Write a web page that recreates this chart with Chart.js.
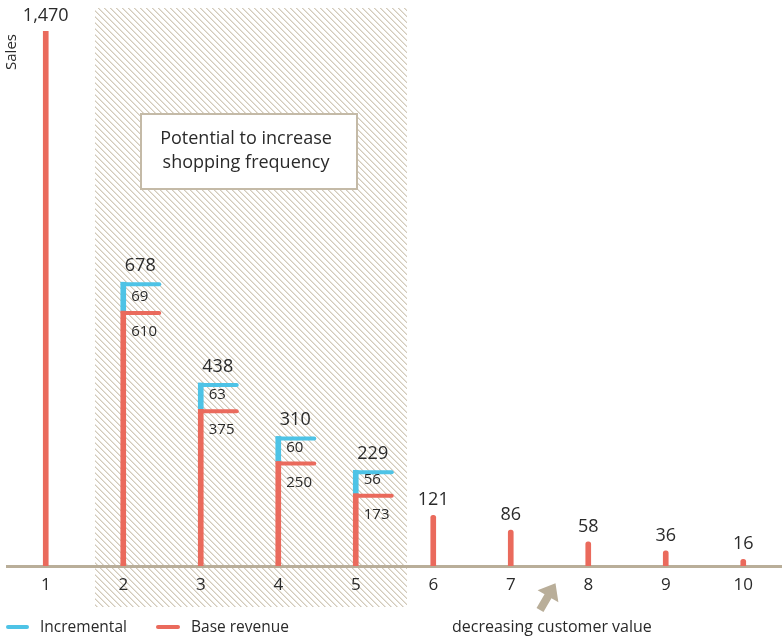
<!DOCTYPE html>
<html>
<head>
<meta charset="utf-8">
<script src="https://cdn.jsdelivr.net/npm/chart.js@4"></script>
<style>
  html, body { margin: 0; padding: 0; background: #fff; }
  #wrap { width: 782px; height: 637px; }
</style>
</head>
<body>
<div id="wrap"><canvas id="salesChart" width="782" height="637"></canvas></div>
<script>
// chart values
const deciles = ['1', '2', '3', '4', '5', '6', '7', '8', '9', '10'];
const baseRevenue = [1470, 610, 375, 250, 173, 121, 86, 58, 36, 16];
const incremental = [null, 69, 63, 60, 56, null, null, null, null, null];
const totalLabels = ['1,470', '678', '438', '310', '229', '121', '86', '58', '36', '16'];

const RED = '#EA6A5C';
const BLUE = '#4EC3E6';
const TAN = '#B9AE99';
const TEXT = '#2a2a2a';
const FONT = '"Open Sans", "Noto Sans", sans-serif';

function hatchPattern(ctx) {
    // thin stair-step diagonal stripes
    const s = 6;
    const tile = document.createElement('canvas');
    tile.width = s; tile.height = s;
    const t = tile.getContext('2d');
    for (let i = 0; i < s; i++) {
        t.fillStyle = '#D2CABB';
        t.fillRect(i, i, 1, 1);
        t.fillStyle = '#E8E3D9';
        t.fillRect((i + 1) % s, i, 1, 1);
    }
    return ctx.createPattern(tile, 'repeat');
}

// hatched zone + callout box, behind everything
const backdrop = {
    id: 'backdrop',
    beforeDraw(chart) {
        const ctx = chart.ctx;
        const x = chart.scales.x;
        const left = Math.round(x.getPixelForTick(1) - 28);
        const right = Math.round(x.getPixelForTick(4) + 51);
        ctx.save();
        ctx.fillStyle = hatchPattern(ctx);
        ctx.fillRect(left, 8, right - left, 599);

        ctx.fillStyle = '#fff';
        ctx.fillRect(141, 114, 216, 75);
        ctx.strokeStyle = '#C4BAA7';
        ctx.lineWidth = 2;
        ctx.strokeRect(141, 114, 216, 75);
        ctx.fillStyle = TEXT;
        ctx.font = '18px ' + FONT;
        ctx.textAlign = 'center';
        ctx.textBaseline = 'alphabetic';
        ctx.fillText('Potential to increase', 246, 144);
        ctx.fillText('shopping frequency', 246, 168);
        ctx.restore();
    }
};

// horizontal caps, value labels, legend, notes
const annotations = {
    id: 'annotations',
    afterDatasetsDraw(chart) {
        const ctx = chart.ctx;
        const baseMeta = chart.getDatasetMeta(0);
        const incMeta = chart.getDatasetMeta(1);
        ctx.save();
        ctx.textBaseline = 'alphabetic';
        ctx.fillStyle = TEXT;

        baseMeta.data.forEach((bar, i) => {
            const inc = incMeta.data[i];
            const hasInc = incremental[i] != null;
            if (hasInc) {
                const x0 = bar.x - 0.5;
                const x1 = bar.x + 36;
                ctx.lineCap = 'round';
                ctx.lineWidth = 4;
                ctx.strokeStyle = RED;
                ctx.beginPath();
                ctx.moveTo(x0, bar.y + 2);
                ctx.lineTo(x1, bar.y + 2);
                ctx.stroke();
                ctx.strokeStyle = BLUE;
                ctx.beginPath();
                ctx.moveTo(x0, inc.y + 2);
                ctx.lineTo(x1, inc.y + 2);
                ctx.stroke();

                ctx.font = '18px ' + FONT;
                ctx.textAlign = 'center';
                ctx.fillText(totalLabels[i], bar.x + 17, inc.y - 11);

                ctx.font = '15px ' + FONT;
                ctx.textAlign = 'left';
                ctx.fillText(String(incremental[i]), bar.x + 8, bar.y - 10);
                ctx.fillText(String(baseRevenue[i]), bar.x + 8, bar.y + 25);
            } else {
                ctx.font = '18px ' + FONT;
                ctx.textAlign = 'center';
                ctx.fillText(totalLabels[i], bar.x, Math.max(bar.y, chart.chartArea.top) - 10);
            }
        });
        ctx.restore();
    },
    afterDraw(chart) {
        const ctx = chart.ctx;
        ctx.save();
        // y title
        ctx.fillStyle = TEXT;
        ctx.font = '15px ' + FONT;
        ctx.translate(16, 52);
        ctx.rotate(-Math.PI / 2);
        ctx.textAlign = 'center';
        ctx.fillText('Sales', 0, 0);
        ctx.restore();

        ctx.save();
        // legend
        ctx.lineCap = 'round';
        ctx.lineWidth = 4;
        ctx.strokeStyle = BLUE;
        ctx.beginPath(); ctx.moveTo(8, 627); ctx.lineTo(27, 627); ctx.stroke();
        ctx.strokeStyle = RED;
        ctx.beginPath(); ctx.moveTo(158, 627); ctx.lineTo(178, 627); ctx.stroke();
        ctx.fillStyle = TEXT;
        ctx.font = '15.5px ' + FONT;
        ctx.textAlign = 'left';
        ctx.fillText('Incremental', 40, 632);
        ctx.fillText('Base revenue', 191, 632);
        ctx.font = '16px ' + FONT;
        ctx.fillText('decreasing customer value', 452, 632);

        // arrow
        ctx.translate(540, 610);
        ctx.rotate(Math.atan2(-26, 15));
        ctx.fillStyle = TAN;
        ctx.beginPath();
        ctx.moveTo(0, -4);
        ctx.lineTo(16, -4);
        ctx.lineTo(16, -12);
        ctx.lineTo(31, 0);
        ctx.lineTo(16, 12);
        ctx.lineTo(16, 4);
        ctx.lineTo(0, 4);
        ctx.closePath();
        ctx.fill();
        ctx.restore();
    }
};

new Chart(document.getElementById('salesChart'), {
    type: 'bar',
    data: {
        labels: deciles,
        datasets: [
            {
                label: 'Base revenue',
                data: baseRevenue,
                backgroundColor: RED,
                barThickness: 5,
                borderRadius: (c) => incremental[c.dataIndex] == null ? { topLeft: 2.5, topRight: 2.5 } : 0,
                borderSkipped: 'bottom'
            },
            {
                label: 'Incremental',
                data: incremental,
                backgroundColor: BLUE,
                barThickness: 5,
                borderRadius: 0
            }
        ]
    },
    options: {
        responsive: false,
        animation: false,
        events: [],
        layout: { padding: { left: 7, right: 0, top: 31, bottom: 30 } },
        plugins: { legend: { display: false }, tooltip: { enabled: false } },
        scales: {
            x: {
                stacked: true,
                grid: { display: false, drawTicks: false },
                border: { display: true, color: TAN, width: 3 },
                ticks: { color: TEXT, font: { family: FONT, size: 17 }, padding: 9 },
                afterFit(scale) { scale.height = 41; }
            },
            y: {
                stacked: true,
                display: false,
                min: 0,
                max: 1280
            }
        }
    },
    plugins: [backdrop, annotations]
});
</script>
</body>
</html>
